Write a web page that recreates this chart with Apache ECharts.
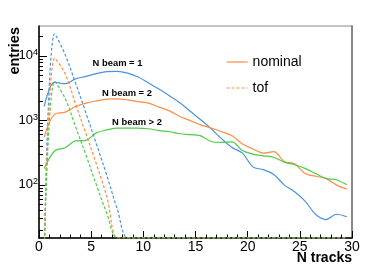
<!DOCTYPE html>
<html><head><meta charset="utf-8">
<script src="https://cdn.jsdelivr.net/npm/echarts@6/dist/echarts.min.js"></script>
<style>html,body{margin:0;padding:0;background:#fff}#c{width:391px;height:265px}</style>
</head><body><div id="c"></div>
<script>
// bin centres of N tracks
const binCenters = [0.5,1.5,2.5,3.5,4.5,5.5,6.5,7.5,8.5,9.5,10.5,11.5,12.5,13.5,14.5,15.5,16.5,17.5,18.5,19.5,20.5,21.5,22.5,23.5,24.5,25.5,26.5,27.5,28.5,29.5];
// nominal (solid)
const beam1Nominal = [1640,3900,3700,4400,4800,5300,5700,5750,5400,4700,3800,3050,2400,1880,1380,1020,740,520,380,310,190,172,145,100,78,56,35,29,35,32];
const beam2Nominal = [550,1250,1340,1640,1850,2000,2130,2150,2080,1950,1850,1600,1400,1150,990,850,760,665,575,430,360,310,328,230,212,150,136,125,100,86];
const beam3Nominal = [180,335,375,480,490,640,710,760,760,760,740,695,665,620,600,575,470,455,465,340,300,282,268,225,205,180,150,126,120,100];
// tof (dashed); zero bins sit on the frame bottom
const beam1Tof = [8,22000,10500,3800,1300,430,140,42,15,15,15,15,15,15,15,15,15,15,15,15,15,15,15,15,15,15,15,15,15,15];
const beam2Tof = [8,9200,5300,1800,620,210,66,15,15,15,15,15,15,15,15,15,15,15,15,15,15,15,15,15,15,15,15,15,15,15];
const beam3Tof = [8,4000,2200,800,290,100,36,15,15,15,15,15,15,15,15,15,15,15,15,15,15,15,15,15,15,15,15,15,15,15];
const yMajorTicks = [100,1000,10000];
const yMinorTicks = [20,30,40,50,60,70,80,90,200,300,400,500,600,700,800,900,2000,3000,4000,5000,6000,7000,8000,9000,20000];
const yMin = 15, yMax = 29000;
const labels = ['N beam = 1','N beam = 2','N beam > 2'];

const FONT = 'Liberation Sans';
const BLUE = '#4a93e0', ORANGE = '#ff8c45', GREEN = '#4ccc48';

function mk(name, vals, color, dashed) {
  return {
    type: 'line', name: name,
    data: binCenters.map((x, i) => [x, vals[i]]),
    smooth: 0.35, symbol: 'none', yAxisIndex: 0,
    lineStyle: {color: color, width: 1.2, type: dashed ? [3, 2] : 'solid'},
    itemStyle: {color: color},
    emphasis: {disabled: true}
  };
}

const chart = echarts.init(document.getElementById('c'), null, {renderer: 'canvas'});
chart.setOption({
  animation: false,
  backgroundColor: '#fff',
  textStyle: {fontFamily: FONT},
  grid: {left: 39, right: 39, top: 26, bottom: 27, show: true, borderColor: '#888', borderWidth: 1},
  legend: {
    data: ['nominal', 'tof'], orient: 'vertical', left: 226, top: 55, padding: 0,
    itemWidth: 21, itemHeight: 14, itemGap: 12,
    itemStyle: {opacity: 0, color: 'transparent', borderColor: 'transparent', borderWidth: 0},
    lineStyle: {width: 1.2},
    textStyle: {fontSize: 14, color: '#000', fontFamily: FONT}
  },
  xAxis: {
    type: 'value', min: 0, max: 30, interval: 5,
    axisLine: {lineStyle: {color: '#000', width: 1.5}},
    axisTick: {inside: true, length: 7, lineStyle: {color: '#000'}},
    minorTick: {show: true, splitNumber: 5, length: 3.5, lineStyle: {color: '#000'}},
    axisLabel: {fontSize: 14, color: '#000', margin: 2, fontFamily: FONT},
    splitLine: {show: false}
  },
  yAxis: [
    {
      type: 'log', logBase: 10, min: yMin, max: yMax,
      axisLine: {show: true, lineStyle: {color: '#000', width: 1.5}},
      axisTick: {show: true, inside: true, length: 8, customValues: yMajorTicks, lineStyle: {color: '#000'}},
      axisLabel: {
        customValues: yMajorTicks, margin: 1,
        formatter: v => '{b|10}{s|' + Math.round(Math.log10(v)) + '}',
        rich: {
          b: {fontSize: 13, color: '#000', fontFamily: FONT, lineHeight: 15},
          s: {fontSize: 9, color: '#000', fontFamily: FONT, verticalAlign: 'top'}
        }
      },
      splitLine: {show: false}
    },
    {
      type: 'log', logBase: 10, min: yMin, max: yMax, position: 'left',
      axisLine: {show: false},
      axisTick: {show: true, inside: true, length: 4, customValues: yMinorTicks, lineStyle: {color: '#000'}},
      axisLabel: {show: false}, splitLine: {show: false}
    },
    {
      type: 'log', logBase: 10, min: yMin, max: yMax, position: 'right',
      axisLine: {show: true, lineStyle: {color: '#888', width: 2}},
      axisTick: {show: false}, axisLabel: {show: false}, splitLine: {show: false}
    }
  ],
  series: [
    mk('beam1 nominal', beam1Nominal, BLUE, false),
    mk('nominal', beam2Nominal, ORANGE, false),
    mk('beam3 nominal', beam3Nominal, GREEN, false),
    mk('beam1 tof', beam1Tof, BLUE, true),
    mk('tof', beam2Tof, ORANGE, true),
    mk('beam3 tof', beam3Tof, GREEN, true)
  ],
  graphic: [
    {type: 'text', x: 117.5, y: 63.5, style: {text: labels[0], font: 'bold 9.4px "Liberation Sans"', fill: '#000', align: 'center', verticalAlign: 'middle'}},
    {type: 'text', x: 127, y: 93, style: {text: labels[1], font: 'bold 9.4px "Liberation Sans"', fill: '#000', align: 'center', verticalAlign: 'middle'}},
    {type: 'text', x: 137, y: 122, style: {text: labels[2], font: 'bold 9.4px "Liberation Sans"', fill: '#000', align: 'center', verticalAlign: 'middle'}},
    {type: 'text', x: 352, y: 258, style: {text: 'N tracks', font: 'bold 14px "Liberation Sans"', fill: '#000', align: 'right', verticalAlign: 'middle'}},
    {type: 'text', x: 15, y: 27, rotation: Math.PI / 2, style: {text: 'entries', font: 'bold 14.5px "Liberation Sans"', fill: '#000', align: 'right', verticalAlign: 'middle'}}
  ]
});
</script></body></html>
